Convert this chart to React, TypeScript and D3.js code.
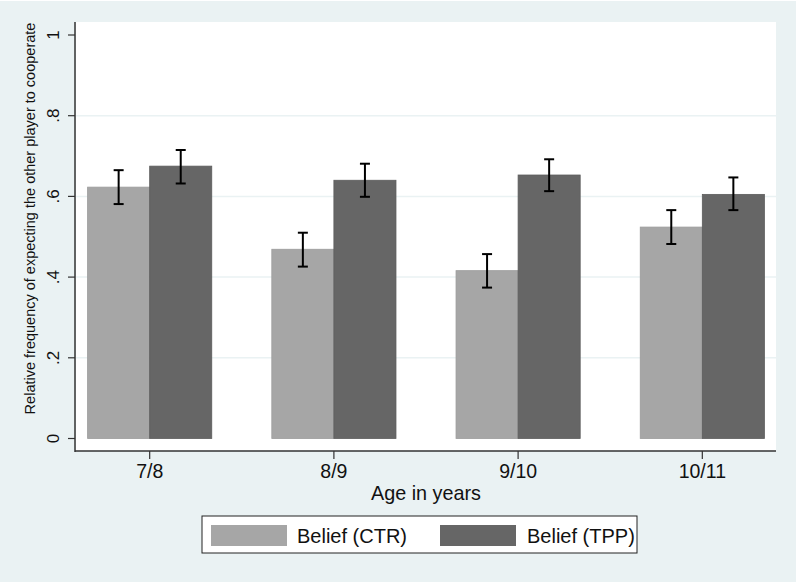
import React from "react";
import * as d3 from "d3";

const categories = ["7/8", "8/9", "9/10", "10/11"];
const seriesNames = ["Belief (CTR)", "Belief (TPP)"];
const ctrValues = [0.623, 0.469, 0.416, 0.524];
const ctrLow = [0.581, 0.426, 0.374, 0.482];
const ctrHigh = [0.665, 0.51, 0.457, 0.566];
const tppValues = [0.675, 0.64, 0.653, 0.605];
const tppLow = [0.632, 0.599, 0.613, 0.566];
const tppHigh = [0.715, 0.681, 0.692, 0.647];
const yTicks = [0, 0.2, 0.4, 0.6, 0.8, 1];
const yTickLabels = ["0", ".2", ".4", ".6", ".8", "1"];
const colors = ["#a6a6a6", "#666666"];

const W = 799;
const H = 582;
const plot = { left: 76, right: 776, top: 22, bottom: 451 };
const FONT = "'Liberation Sans', Arial, Helvetica, sans-serif";

export default function App() {
  const x = d3
    .scalePoint<string>()
    .domain(categories)
    .range([plot.left, plot.right])
    .padding(0.4);
  const step = x.step();
  const barW = step * 0.337;
  const y = d3.scaleLinear().domain([0, 1]).range([438.5, 35]);

  const series = [
    { name: seriesNames[0], values: ctrValues, lo: ctrLow, hi: ctrHigh, color: colors[0], stroke: "#9c9c9c", off: -1 },
    { name: seriesNames[1], values: tppValues, lo: tppLow, hi: tppHigh, color: colors[1], stroke: "#5c5c5c", off: 0 },
  ];

  return (
    <svg
      width={W}
      height={H}
      style={{ position: "absolute", left: 0, top: 0, display: "block" }}
      fontFamily={FONT}
    >
      <rect x={0} y={0} width={W} height={H} fill="#ffffff" />
      <rect x={0} y={1} width={796} height={H - 1} fill="#eaf2f3" />
      <rect
        x={plot.left}
        y={plot.top}
        width={plot.right - plot.left}
        height={plot.bottom - plot.top}
        fill="#ffffff"
      />
      {/* gridlines */}
      {yTicks
        .filter((t) => t > 0 && t < 1)
        .map((t) => (
          <line
            key={"g" + t}
            x1={plot.left}
            x2={plot.right}
            y1={y(t)}
            y2={y(t)}
            stroke="#eaf2f3"
            strokeWidth={1.5}
          />
        ))}
      {/* bars */}
      {series.map((s) =>
        categories.map((c, i) => {
          const cx = x(c)!;
          const bx = cx + s.off * barW;
          return (
            <rect
              key={s.name + c}
              x={bx}
              y={y(s.values[i])}
              width={barW}
              height={y(0) - y(s.values[i])}
              fill={s.color}
              stroke={s.stroke}
              strokeWidth={0.8}
            />
          );
        })
      )}
      {/* error bars */}
      {series.map((s) =>
        categories.map((c, i) => {
          const cx = x(c)! + s.off * barW + barW / 2;
          const capW = 5;
          return (
            <g key={"e" + s.name + c} stroke="#000" strokeWidth={2}>
              <line x1={cx} x2={cx} y1={y(s.hi[i])} y2={y(s.lo[i])} />
              <line x1={cx - capW} x2={cx + capW} y1={y(s.hi[i])} y2={y(s.hi[i])} />
              <line x1={cx - capW} x2={cx + capW} y1={y(s.lo[i])} y2={y(s.lo[i])} />
            </g>
          );
        })
      )}
      {/* axes */}
      <line x1={plot.left - 1} x2={plot.left - 1} y1={plot.top} y2={plot.bottom + 1} stroke="#333" strokeWidth={1.5} />
      <line x1={plot.left - 1} x2={plot.right} y1={plot.bottom} y2={plot.bottom} stroke="#333" strokeWidth={1.5} />
      {yTicks.map((t, i) => (
        <g key={"yt" + t}>
          <line x1={plot.left - 8} x2={plot.left - 1} y1={y(t)} y2={y(t)} stroke="#333" strokeWidth={1.2} />
          <text
            transform={`translate(58.5,${y(t)}) rotate(-90)`}
            textAnchor="middle"
            fontSize={17}
            fill="#111"
          >
            {yTickLabels[i]}
          </text>
        </g>
      ))}
      {categories.map((c) => (
        <g key={"xt" + c}>
          <line x1={x(c)!} x2={x(c)!} y1={plot.bottom} y2={plot.bottom + 8} stroke="#333" strokeWidth={1.2} />
          <text x={x(c)!} y={478} textAnchor="middle" fontSize={19.5} fill="#111">
            {c}
          </text>
        </g>
      ))}
      <text x={(plot.left + plot.right) / 2} y={500} textAnchor="middle" fontSize={19.8} fill="#111">
        Age in years
      </text>
      <text
        transform={`translate(35,218.5) rotate(-90)`}
        textAnchor="middle"
        fontSize={14.5}
        fill="#111"
      >
        Relative frequency of expecting the other player to cooperate
      </text>
      {/* legend */}
      <rect x={202} y={516} width={435} height={37} fill="#fff" stroke="#222" strokeWidth={1} />
      <rect x={211} y={525} width={76} height={21} fill={colors[0]} />
      <text x={297} y={542.5} fontSize={20} fill="#111">
        {seriesNames[0]}
      </text>
      <rect x={440} y={525} width={76} height={21} fill={colors[1]} />
      <text x={527} y={542.5} fontSize={20} fill="#111">
        {seriesNames[1]}
      </text>
    </svg>
  );
}
